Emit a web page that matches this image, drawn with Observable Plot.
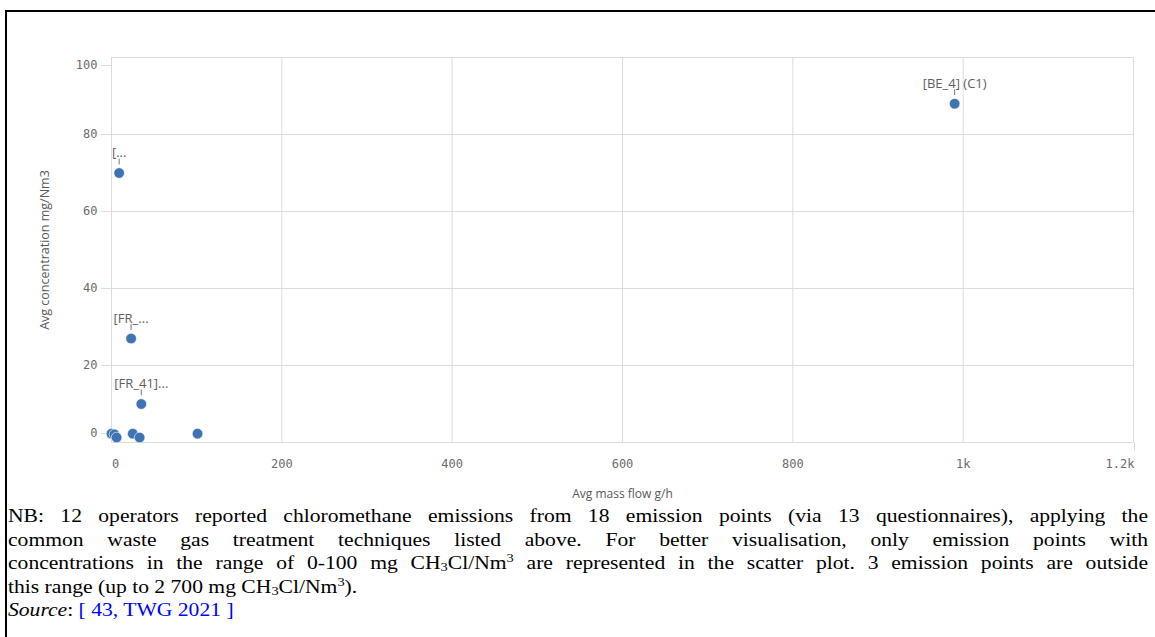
<!DOCTYPE html>
<html>
<head>
<meta charset="utf-8">
<script src="https://cdn.jsdelivr.net/npm/d3@7"></script>
<script src="https://cdn.jsdelivr.net/npm/@observablehq/plot@0.6"></script>
<style>
  html, body { margin: 0; padding: 0; background: #fff; width: 1155px; height: 637px; overflow: hidden; }
  #frame { position: absolute; left: 5px; top: 10px; width: 1160px; height: 640px; border-left: 2px solid #000; border-top: 2px solid #000; box-sizing: border-box; }
  #chart { position: absolute; left: 0; top: 0; }
  #caption { position: absolute; left: 8px; top: 505px; width: 950px; transform: scaleX(1.2); transform-origin: 0 0; font-family: "Liberation Serif", "Times New Roman", serif; font-size: 18px; color: #000; line-height: 23.5px; }
  #caption .j { text-align: justify; text-align-last: justify; }
  #caption .l { text-align: left; }
  #caption a { color: #0000ff; text-decoration: none; }
  sub { font-size: 12px; vertical-align: -2px; line-height: 0; }
  sup { font-size: 12px; vertical-align: 7px; line-height: 0; }
</style>
</head>
<body>
<div id="frame"></div>
<div id="chart"></div>
<div id="caption">
  <div class="j">NB: 12 operators reported chloromethane emissions from 18 emission points (via 13 questionnaires), applying the</div>
  <div class="j">common waste gas treatment techniques listed above. For better visualisation, only emission points with</div>
  <div class="j">concentrations in the range of 0-100 mg CH<sub>3</sub>Cl/Nm<sup>3</sup> are represented in the scatter plot. 3 emission points are outside</div>
  <div class="l">this range (up to 2 700 mg CH<sub>3</sub>Cl/Nm<sup>3</sup>).</div>
  <div class="l"><i>Source</i>: <a>[ 43, TWG 2021 ]</a></div>
</div>
<script>
// Data
const massFlow      = [0,   3.5, 6,   25,  33,  101, 9,  23, 35, 990];
const concentration = [2.3, 2.1, 1.3, 2.3, 1.3, 2.3, 70, 27, 10, 88];
const pointLabels   = ["",  "",  "",  "",  "",  "",  "[...", "[FR_...", "[FR_41]...", "[BE_4] (C1)"];

const xTicks = [0, 200, 400, 600, 800, 1000, 1200];
const yTicks = [0, 20, 40, 60, 80, 100];

const points = massFlow.map((x, i) => ({x, y: concentration[i], label: pointLabels[i]}));
const labeled = points.filter(d => d.label);

const fmtX = d => d >= 1000 ? (d / 1000) + "k" : String(d);
const tickFont = "'DejaVu Sans Mono', monospace";
const grey = "#6b6b6b";
const gridColor = "#dcdcdc";
const fs = 12;

const plot = Plot.plot({
  width: 1155,
  height: 505,
  marginTop: 57,
  marginBottom: 63,
  marginLeft: 111,
  marginRight: 22,
  x: {domain: [0, 1200]},
  y: {domain: [0, 100]},
  style: {background: "transparent", overflow: "visible"},
  marks: [
    Plot.gridX(xTicks, {stroke: gridColor, strokeOpacity: 1}),
    Plot.gridY(yTicks, {stroke: gridColor, strokeOpacity: 1}),
    Plot.axisY(yTicks.filter(d => d > 0 && d < 100), {tickSize: 10, tickPadding: 4, stroke: gridColor, fill: grey, fontFamily: tickFont, fontSize: fs, label: null}),
    Plot.axisY([0], {tickSize: 10, tickPadding: 4, stroke: gridColor, fill: grey, fontFamily: tickFont, fontSize: fs, dy: -9, label: null}),
    Plot.axisY([100], {tickSize: 10, tickPadding: 4, stroke: gridColor, fill: grey, fontFamily: tickFont, fontSize: fs, dy: 8, label: null}),
    Plot.axisX(xTicks.filter(d => d > 0 && d < 1200), {tickSize: 0, tickPadding: 17, fill: grey, fontFamily: tickFont, fontSize: fs, tickFormat: fmtX, label: null}),
    Plot.axisX([0], {tickSize: 0, tickPadding: 17, fill: grey, fontFamily: tickFont, fontSize: fs, tickFormat: fmtX, dx: 4, label: null}),
    Plot.axisX([1200], {tickSize: 9, tickPadding: 8, stroke: gridColor, fill: grey, fontFamily: tickFont, fontSize: fs, tickFormat: fmtX, textAnchor: "end", dx: 1, label: null}),
    Plot.text(["Avg mass flow g/h"], {frameAnchor: "bottom", textAnchor: "middle", lineAnchor: "middle", dy: 52, fill: "#595959", fontFamily: "'Open Sans', sans-serif", fontSize: 12}),
    Plot.text(["Avg concentration mg/Nm3"], {frameAnchor: "left", textAnchor: "middle", lineAnchor: "middle", dx: -67, rotate: -90, fill: "#595959", fontFamily: "'Open Sans', sans-serif", fontSize: 12.5}),
    Plot.dot(points, {x: "x", y: "y", r: 5.3, fill: "#3e74b3", stroke: "#ffffff", strokeWidth: 0.6}),
    Plot.vector(labeled, {x: "x", y: "y", length: 5, rotate: 0, anchor: "start", dy: -9, stroke: "#777", strokeWidth: 1,
      shape: {draw(context, l) { context.moveTo(0, 0); context.lineTo(0, -l); }}}),
    Plot.text(labeled, {x: "x", y: "y", text: "label", dy: -20, fill: "#606060", fontFamily: "'Open Sans', sans-serif", fontSize: 13})
  ]
});
document.getElementById("chart").appendChild(plot);
</script>
</body>
</html>
